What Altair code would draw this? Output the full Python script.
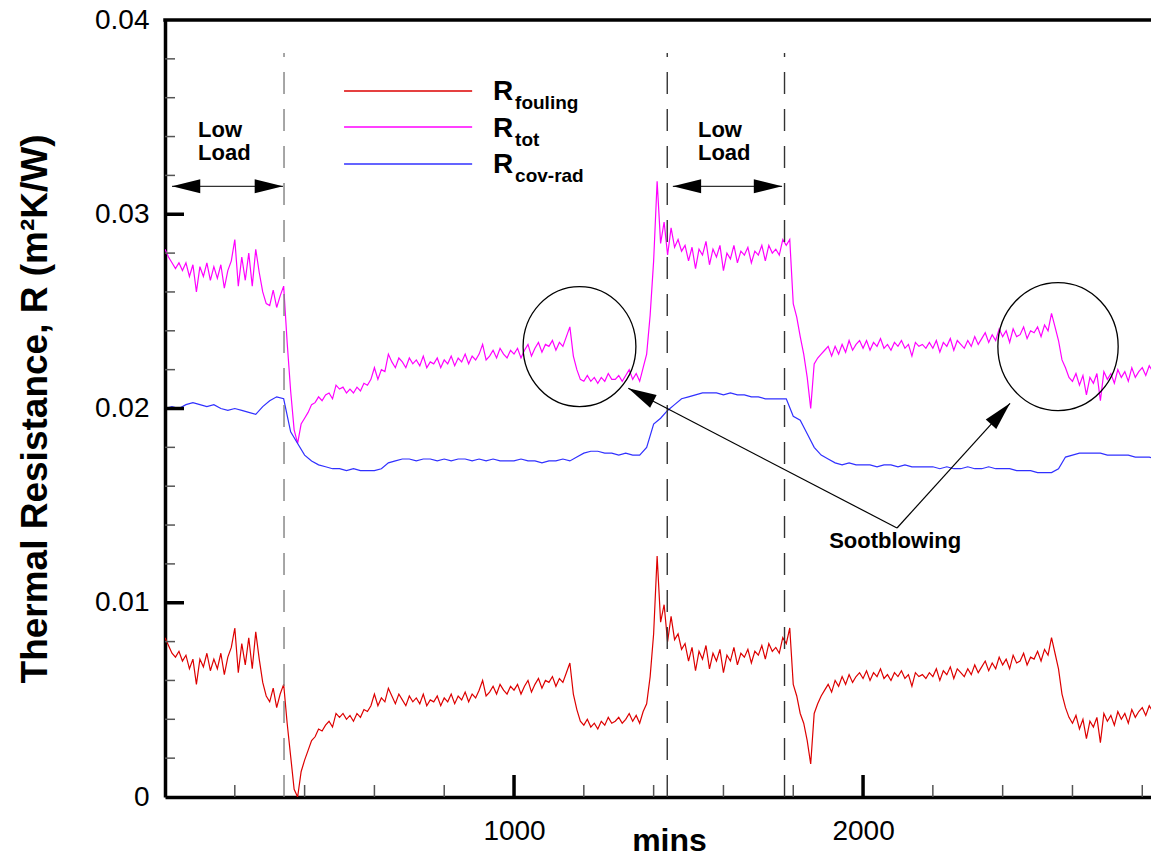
import altair as alt
import pandas as pd

FONT = "Liberation Sans"
W, H = 986, 777
XMAX = 2825

# sampling grids (minutes)
t_fine = list(range(0, 2851, 10))
t_coarse = list(range(0, 2861, 20))

r_fouling = [
    0.0082, 0.0078, 0.0074, 0.0072, 0.0075, 0.0070, 0.0073, 0.0066, 0.0071, 0.0058,
    0.0071, 0.0067, 0.0074, 0.0065, 0.0071, 0.0066, 0.0074, 0.0063, 0.0072, 0.0077,
    0.0087, 0.0064, 0.0079, 0.0068, 0.0082, 0.0066, 0.0085, 0.0071, 0.0059, 0.0052,
    0.0049, 0.0056, 0.0046, 0.0053, 0.0058, 0.0038, 0.0021, 0.0004, 0.0000, 0.0013,
    0.0019, 0.0024, 0.0029, 0.0031, 0.0035, 0.0034, 0.0037, 0.0039, 0.0036, 0.0043,
    0.0041, 0.0043, 0.0040, 0.0042, 0.0039, 0.0043, 0.0041, 0.0045, 0.0044, 0.0047,
    0.0053, 0.0047, 0.0051, 0.0049, 0.0056, 0.0052, 0.0048, 0.0053, 0.0050, 0.0047,
    0.0052, 0.0049, 0.0051, 0.0048, 0.0053, 0.0047, 0.0050, 0.0049, 0.0052, 0.0047,
    0.0051, 0.0049, 0.0053, 0.0048, 0.0052, 0.0050, 0.0054, 0.0049, 0.0053, 0.0051,
    0.0055, 0.0060, 0.0052, 0.0054, 0.0057, 0.0053, 0.0058, 0.0055, 0.0053, 0.0057,
    0.0055, 0.0058, 0.0053, 0.0057, 0.0060, 0.0054, 0.0058, 0.0061, 0.0056, 0.0060,
    0.0059, 0.0062, 0.0057, 0.0061, 0.0059, 0.0064, 0.0069, 0.0053, 0.0045, 0.0039,
    0.0037, 0.0040, 0.0036, 0.0038, 0.0035, 0.0039, 0.0037, 0.0041, 0.0038, 0.0039,
    0.0041, 0.0038, 0.0040, 0.0043, 0.0039, 0.0042, 0.0038, 0.0044, 0.0048, 0.0062,
    0.0084, 0.0124, 0.0090, 0.0099, 0.0080, 0.0093, 0.0081, 0.0084, 0.0076, 0.0079,
    0.0070, 0.0077, 0.0065, 0.0075, 0.0071, 0.0078, 0.0066, 0.0074, 0.0070, 0.0076,
    0.0064, 0.0073, 0.0070, 0.0077, 0.0068, 0.0074, 0.0072, 0.0076, 0.0069, 0.0075,
    0.0073, 0.0078, 0.0071, 0.0079, 0.0075, 0.0077, 0.0074, 0.0082, 0.0079, 0.0087,
    0.0058, 0.0052, 0.0043, 0.0038, 0.0029, 0.0017, 0.0043, 0.0048, 0.0052, 0.0055,
    0.0058, 0.0054, 0.0060, 0.0057, 0.0062, 0.0058, 0.0063, 0.0059, 0.0062, 0.0064,
    0.0061, 0.0065, 0.0060, 0.0064, 0.0062, 0.0066, 0.0061, 0.0063, 0.0060, 0.0064,
    0.0062, 0.0065, 0.0061, 0.0063, 0.0057, 0.0064, 0.0062, 0.0063, 0.0061, 0.0064,
    0.0062, 0.0066, 0.0060, 0.0065, 0.0063, 0.0067, 0.0061, 0.0066, 0.0064, 0.0062,
    0.0066, 0.0063, 0.0068, 0.0064, 0.0067, 0.0070, 0.0065, 0.0069, 0.0066, 0.0072,
    0.0068, 0.0071, 0.0066, 0.0073, 0.0069, 0.0070, 0.0074, 0.0068, 0.0072, 0.0071,
    0.0075, 0.0070, 0.0076, 0.0073, 0.0082, 0.0074, 0.0066, 0.0053, 0.0046, 0.0041,
    0.0038, 0.0042, 0.0035, 0.0040, 0.0030, 0.0039, 0.0036, 0.0041, 0.0028, 0.0043,
    0.0039, 0.0042, 0.0037, 0.0044, 0.0040, 0.0043, 0.0038, 0.0045, 0.0041, 0.0044,
    0.0046, 0.0042, 0.0047, 0.0044, 0.0047, 0.0046,
]

r_tot = [
    0.0282, 0.0278, 0.0275, 0.0272, 0.0275, 0.0271, 0.0275, 0.0268, 0.0274, 0.0260,
    0.0273, 0.0268, 0.0275, 0.0266, 0.0273, 0.0267, 0.0274, 0.0262, 0.0271, 0.0276,
    0.0287, 0.0263, 0.0278, 0.0266, 0.0280, 0.0263, 0.0282, 0.0270, 0.0260, 0.0254,
    0.0253, 0.0261, 0.0252, 0.0258, 0.0263, 0.0234, 0.0209, 0.0189, 0.0182, 0.0192,
    0.0195, 0.0198, 0.0202, 0.0203, 0.0206, 0.0204, 0.0207, 0.0208, 0.0205, 0.0212,
    0.0210, 0.0211, 0.0208, 0.0210, 0.0208, 0.0211, 0.0209, 0.0213, 0.0212, 0.0215,
    0.0221, 0.0215, 0.0220, 0.0219, 0.0228, 0.0224, 0.0221, 0.0226, 0.0224, 0.0221,
    0.0226, 0.0223, 0.0225, 0.0222, 0.0227, 0.0221, 0.0224, 0.0223, 0.0226, 0.0221,
    0.0225, 0.0223, 0.0227, 0.0222, 0.0226, 0.0224, 0.0228, 0.0223, 0.0227, 0.0225,
    0.0228, 0.0233, 0.0225, 0.0227, 0.0230, 0.0226, 0.0231, 0.0228, 0.0226, 0.0230,
    0.0228, 0.0231, 0.0226, 0.0230, 0.0233, 0.0227, 0.0231, 0.0234, 0.0229, 0.0233,
    0.0232, 0.0235, 0.0230, 0.0234, 0.0232, 0.0237, 0.0242, 0.0227, 0.0220, 0.0215,
    0.0214, 0.0217, 0.0214, 0.0216, 0.0213, 0.0216, 0.0214, 0.0218, 0.0215, 0.0215,
    0.0217, 0.0214, 0.0217, 0.0220, 0.0215, 0.0218, 0.0214, 0.0221, 0.0228, 0.0248,
    0.0276, 0.0317, 0.0285, 0.0296, 0.0279, 0.0293, 0.0283, 0.0287, 0.0281, 0.0284,
    0.0276, 0.0283, 0.0272, 0.0282, 0.0279, 0.0286, 0.0274, 0.0282, 0.0278, 0.0284,
    0.0271, 0.0280, 0.0277, 0.0284, 0.0275, 0.0281, 0.0279, 0.0283, 0.0275, 0.0281,
    0.0279, 0.0284, 0.0276, 0.0284, 0.0280, 0.0282, 0.0279, 0.0287, 0.0284, 0.0287,
    0.0254, 0.0247, 0.0237, 0.0228, 0.0216, 0.0200, 0.0223, 0.0226, 0.0228, 0.0230,
    0.0232, 0.0227, 0.0232, 0.0228, 0.0233, 0.0229, 0.0235, 0.0230, 0.0233, 0.0235,
    0.0231, 0.0235, 0.0230, 0.0234, 0.0232, 0.0236, 0.0231, 0.0233, 0.0230, 0.0234,
    0.0232, 0.0235, 0.0231, 0.0233, 0.0227, 0.0234, 0.0232, 0.0233, 0.0231, 0.0234,
    0.0231, 0.0235, 0.0229, 0.0234, 0.0232, 0.0236, 0.0230, 0.0235, 0.0233, 0.0231,
    0.0235, 0.0232, 0.0237, 0.0233, 0.0236, 0.0239, 0.0234, 0.0238, 0.0235, 0.0241,
    0.0237, 0.0240, 0.0234, 0.0241, 0.0237, 0.0238, 0.0242, 0.0236, 0.0240, 0.0239,
    0.0242, 0.0237, 0.0243, 0.0240, 0.0249, 0.0242, 0.0235, 0.0225, 0.0221, 0.0216,
    0.0214, 0.0218, 0.0212, 0.0217, 0.0207, 0.0216, 0.0213, 0.0218, 0.0204, 0.0219,
    0.0215, 0.0218, 0.0213, 0.0220, 0.0216, 0.0219, 0.0214, 0.0221, 0.0216, 0.0219,
    0.0221, 0.0217, 0.0222, 0.0219, 0.0221, 0.0220,
]

r_covrad = [
    0.0200, 0.0201, 0.0200, 0.0202, 0.0203, 0.0202, 0.0201, 0.0202, 0.0200, 0.0199,
    0.0200, 0.0199, 0.0198, 0.0197, 0.0201, 0.0204, 0.0206, 0.0205, 0.0188, 0.0182,
    0.0176, 0.0173, 0.0171, 0.0170, 0.0169, 0.0169, 0.0168, 0.0169, 0.0168, 0.0168,
    0.0168, 0.0169, 0.0172, 0.0173, 0.0174, 0.0174, 0.0173, 0.0174, 0.0174, 0.0173,
    0.0174, 0.0173, 0.0174, 0.0174, 0.0173, 0.0174, 0.0173, 0.0174, 0.0173, 0.0173,
    0.0173, 0.0174, 0.0173, 0.0173, 0.0172, 0.0173, 0.0173, 0.0174, 0.0173, 0.0175,
    0.0177, 0.0178, 0.0178, 0.0177, 0.0177, 0.0176, 0.0177, 0.0176, 0.0176, 0.0180,
    0.0192, 0.0195, 0.0199, 0.0202, 0.0205, 0.0206, 0.0207, 0.0208, 0.0208, 0.0208,
    0.0207, 0.0208, 0.0207, 0.0207, 0.0206, 0.0206, 0.0205, 0.0205, 0.0205, 0.0205,
    0.0196, 0.0194, 0.0187, 0.0180, 0.0176, 0.0174, 0.0172, 0.0171, 0.0172, 0.0171,
    0.0171, 0.0171, 0.0170, 0.0171, 0.0171, 0.0170, 0.0171, 0.0170, 0.0170, 0.0170,
    0.0170, 0.0169, 0.0170, 0.0169, 0.0169, 0.0170, 0.0169, 0.0169, 0.0170, 0.0169,
    0.0169, 0.0169, 0.0168, 0.0168, 0.0168, 0.0167, 0.0167, 0.0167, 0.0169, 0.0175,
    0.0176, 0.0177, 0.0177, 0.0177, 0.0177, 0.0176, 0.0176, 0.0176, 0.0176, 0.0175,
    0.0175, 0.0175, 0.0174, 0.0174,
]

series_names = ["fouling", "tot", "cov-rad"]
series_colors = ["#DD0000", "#FF00FF", "#3030FF"]

# axis tick positions
x_major = [1000, 2000]
x_minor = [200, 400, 600, 800, 1200, 1400, 1600, 1800, 2200, 2400, 2600, 2800]
y_labels = [0, 0.01, 0.02, 0.03, 0.04]
y_major = [0.01, 0.02, 0.03]
y_minor = [0.002, 0.004, 0.006, 0.008, 0.012, 0.014, 0.016, 0.018,
           0.022, 0.024, 0.026, 0.028, 0.032, 0.034, 0.036, 0.038]

# annotations (data coordinates)
dashed_t = [341, 1439, 1775]
dashed_col = ["#808080", "#333333", "#333333"]
dashed_top = 0.0383

lowload_x = [94.6, 94.6, 1527, 1527]
lowload_y = [0.03398, 0.03279, 0.03398, 0.03279]
lowload_txt = ["Low", "Load", "Low", "Load"]
arrow_y = 0.03144
arrow_x1 = [20, 1455]
arrow_x2 = [338, 1768]

circle_t = [1187.6, 2558.6]
circle_R = [0.02319, 0.02319]
circle_size = [14400, 16384]

soot_meet = (2097.3, 0.013848)
soot_tip_t = [1327.4, 2421.1]
soot_tip_R = [0.02104, 0.020268]
soot_angle = [207.5, 312.2]
soot_text = (2092, 0.01282)

legend_x1, legend_x2 = 513, 880
legend_line_y = [0.036345, 0.034492, 0.032587]
legend_R_x = 940
legend_R_y = [0.035882, 0.033977, 0.032124]
legend_sub_x = 1003
legend_sub_y = [0.035418, 0.033514, 0.031660]

ARROW = "M0,0L-2,-0.5L-2,0.5Z"
ELLIPSE = "M-0.94,0A0.94,1,0,1,0,0.94,0A0.94,1,0,1,0,-0.94,0Z"

xs = alt.Scale(domain=[0, XMAX], nice=False, zero=False)
ys = alt.Scale(domain=[0, 0.04], nice=False, zero=False)

df = pd.concat([
    pd.DataFrame({"t": t_fine, "R": r_fouling, "s": "fouling"}),
    pd.DataFrame({"t": t_fine, "R": r_tot, "s": "tot"}),
    pd.DataFrame({"t": t_coarse, "R": r_covrad, "s": "cov-rad"}),
], ignore_index=True)

lines = alt.Chart(df).mark_line(strokeWidth=1.2, clip=True).encode(
    x=alt.X("t:Q", scale=xs, axis=alt.Axis(
        values=x_major, format="d", ticks=False, grid=False,
        domainColor="black", domainWidth=3.5,
        labelFont=FONT, labelFontSize=28, labelColor="black", labelPadding=20,
        title="mins", titleFont=FONT, titleFontSize=32, titleFontWeight="bold",
        titleColor="black", titleX=504, titleY=53, titleBaseline="alphabetic")),
    y=alt.Y("R:Q", scale=ys, axis=alt.Axis(
        values=y_labels, format=".2~f", ticks=False, grid=False,
        domainColor="black", domainWidth=3.5,
        labelFont=FONT, labelFontSize=28, labelColor="black", labelPadding=16,
        title="Thermal Resistance, R (m²K/W)", titleFont=FONT, titleFontSize=37,
        titleFontWeight="bold", titleColor="black", titleX=-119, titleY=H / 2,
        titleBaseline="alphabetic")),
    color=alt.Color("s:N", scale=alt.Scale(domain=series_names, range=series_colors), legend=None),
    order=alt.Order("t:Q"),
)

def xq(f):
    return alt.X(f, type="quantitative", scale=xs)

def yq(f):
    return alt.Y(f, type="quantitative", scale=ys)

top_border = alt.Chart(pd.DataFrame({"y": [0.04]})).mark_rule(color="black", strokeWidth=3.5).encode(
    y=yq("y"), x=alt.value(-1.75), x2=alt.value(W))

xt_major = alt.Chart(pd.DataFrame({"v": x_major})).mark_rule(color="black", strokeWidth=3.5).encode(
    x=xq("v"), y=alt.value(H), y2=alt.value(H - 22))
xt_minor = alt.Chart(pd.DataFrame({"v": x_minor})).mark_rule(color="#555555", strokeWidth=1.5).encode(
    x=xq("v"), y=alt.value(H), y2=alt.value(H - 12))
yt_major = alt.Chart(pd.DataFrame({"v": y_major})).mark_rule(color="black", strokeWidth=3.5).encode(
    y=yq("v"), x=alt.value(0), x2=alt.value(19))
yt_minor = alt.Chart(pd.DataFrame({"v": y_minor})).mark_rule(color="#555555", strokeWidth=1.5).encode(
    y=yq("v"), x=alt.value(0), x2=alt.value(10))

dashed = alt.Chart(pd.DataFrame({"t": dashed_t, "c": dashed_col, "y0": [0] * 3, "y1": [dashed_top] * 3})).mark_rule(
    strokeWidth=1.4, strokeDash=[22, 15]).encode(
    x=xq("t"), y=yq("y0"), y2="y1:Q", color=alt.Color("c:N", scale=None))

ll_text = alt.Chart(pd.DataFrame({"t": lowload_x, "R": lowload_y, "txt": lowload_txt})).mark_text(
    font=FONT, fontSize=22, fontWeight="bold", align="left", baseline="alphabetic", color="black").encode(
    x=xq("t"), y=yq("R"), text="txt:N")

ll_shaft = alt.Chart(pd.DataFrame({"x1": arrow_x1, "x2": arrow_x2, "y": [arrow_y] * 2})).mark_rule(
    color="#333333", strokeWidth=1.3).encode(x=xq("x1"), x2="x2:Q", y=yq("y"))

heads_df = pd.DataFrame({
    "t": [arrow_x1[0], arrow_x2[0], arrow_x1[1], arrow_x2[1]] + soot_tip_t,
    "R": [arrow_y] * 4 + soot_tip_R,
    "a": [180, 0, 180, 0] + soot_angle,
})
heads = alt.Chart(heads_df).mark_point(shape=ARROW, filled=True, size=800, color="black",
                                       opacity=1, strokeWidth=0).encode(
    x=xq("t"), y=yq("R"), angle=alt.Angle("a:Q", scale=None))

soot_lines = alt.Chart(pd.DataFrame({"x1": [soot_meet[0]] * 2, "y1": [soot_meet[1]] * 2,
                                     "x2": soot_tip_t, "y2": soot_tip_R})).mark_rule(
    color="black", strokeWidth=1.2).encode(x=xq("x1"), y=yq("y1"), x2="x2:Q", y2="y2:Q")

soot_label = alt.Chart(pd.DataFrame({"t": [soot_text[0]], "R": [soot_text[1]], "txt": ["Sootblowing"]})).mark_text(
    font=FONT, fontSize=22, fontWeight="bold", align="center", baseline="alphabetic", color="black").encode(
    x=xq("t"), y=yq("R"), text="txt:N")

circles = alt.Chart(pd.DataFrame({"t": circle_t, "R": circle_R, "sz": circle_size})).mark_point(
    shape=ELLIPSE, filled=False, color="black", strokeWidth=1.3, opacity=1).encode(
    x=xq("t"), y=yq("R"), size=alt.Size("sz:Q", scale=None))

leg_lines = alt.Chart(pd.DataFrame({"x1": [legend_x1] * 3, "x2": [legend_x2] * 3, "y": legend_line_y,
                                    "c": series_colors})).mark_rule(strokeWidth=1.4).encode(
    x=xq("x1"), x2="x2:Q", y=yq("y"), color=alt.Color("c:N", scale=None))

leg_R = alt.Chart(pd.DataFrame({"t": [legend_R_x] * 3, "R": legend_R_y, "txt": ["R", "R", "R"]})).mark_text(
    font=FONT, fontSize=28, fontWeight="bold", align="left", baseline="alphabetic", color="black").encode(
    x=xq("t"), y=yq("R"), text="txt:N")

leg_sub = alt.Chart(pd.DataFrame({"t": [legend_sub_x] * 3, "R": legend_sub_y, "txt": series_names})).mark_text(
    font=FONT, fontSize=19, fontWeight="bold", align="left", baseline="alphabetic", color="black").encode(
    x=xq("t"), y=yq("R"), text="txt:N")

chart = alt.layer(
    lines, dashed, top_border, xt_major, xt_minor, yt_major, yt_minor,
    ll_shaft, heads, ll_text, soot_lines, soot_label, circles,
    leg_lines, leg_R, leg_sub,
).properties(
    width=W, height=H,
    autosize=alt.AutoSizeParams(type="none"),
    padding={"left": 157, "top": 12, "right": 0, "bottom": 60},
    background="white",
).configure_view(stroke=None)

chart.save("out.html", embed_options={"renderer": "svg", "actions": False})
